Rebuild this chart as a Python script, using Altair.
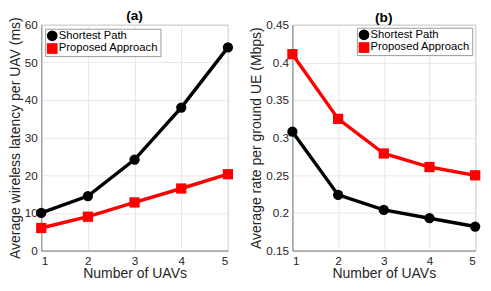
import altair as alt
import pandas as pd

uavs = [1, 2, 3, 4, 5]
latency_shortest = [10.0, 14.5, 24.2, 38.0, 54.0]
latency_proposed = [6.0, 9.0, 12.8, 16.5, 20.3]
rate_shortest = [0.308, 0.224, 0.204, 0.193, 0.182]
rate_proposed = [0.411, 0.325, 0.279, 0.261, 0.250]
series_names = ["Shortest Path", "Proposed Approach"]
series_colors = ["#000000", "#ff0000"]
series_shapes = ["circle", "square"]
latency_ticks = [0, 10, 20, 30, 40, 50, 60]
rate_ticks = [0.15, 0.2, 0.25, 0.3, 0.35, 0.4, 0.45]

FONT = "Liberation Sans"


def make_df(a, b):
    rows = []
    for name, vals in zip(series_names, [a, b]):
        for x, y in zip(uavs, vals):
            rows.append({"uavs": x, "value": y, "series": name})
    return pd.DataFrame(rows)


def panel(df, title, ytitle, ydomain, yticks, yfmt, orient, off, w, h):
    leg = alt.Legend(
        title=None, orient=orient, offset=off,
        fillColor="white", strokeColor="#9a9a9a", padding=1.5,
        labelFont=FONT, labelFontSize=11.5, labelColor="#000000",
        symbolSize=120, symbolStrokeWidth=0, rowPadding=0, labelOffset=1,
        symbolOffset=0,
    )
    cscale = alt.Scale(domain=series_names, range=series_colors)
    sscale = alt.Scale(domain=series_names, range=series_shapes)
    x = alt.X("uavs:Q", title="Number of UAVs",
              scale=alt.Scale(domain=[1, 5], nice=False),
              axis=alt.Axis(values=uavs, format="d", labelPadding=5,
                            titlePadding=1))
    y = alt.Y("value:Q", title=ytitle,
              scale=alt.Scale(domain=ydomain, nice=False, zero=False),
              axis=alt.Axis(values=yticks, format=yfmt, labelPadding=4,
                            titlePadding=2))
    base = alt.Chart(df)
    line = base.mark_line(strokeWidth=3.5).encode(
        x=x, y=y,
        color=alt.Color("series:N", scale=cscale, legend=leg),
    )
    pts = base.mark_point(filled=True, opacity=1, size=110).encode(
        x=x, y=y,
        color=alt.Color("series:N", scale=cscale, legend=leg),
        shape=alt.Shape("series:N", scale=sscale, legend=leg),
    )
    return alt.layer(line, pts).properties(
        width=w, height=h,
        title=alt.TitleParams(title, fontSize=14, fontWeight="bold", font=FONT,
                              offset=-6, anchor="middle", color="#000000",
                              frame="group"),
    )


pa = panel(make_df(latency_shortest, latency_proposed), "(a)",
           "Average wireless latency per UAV (ms)", [0, 60], latency_ticks, "d",
           "top-left", 4, 191, 231)
pb = panel(make_df(rate_shortest, rate_proposed), "(b)",
           "Average rate per ground UE (Mbps)", [0.15, 0.45], rate_ticks, "~g",
           "top-right", 3, 187, 231)

chart = alt.hconcat(pa, pb, spacing=14).resolve_legend(
    color="independent", shape="independent"
).resolve_scale(color="independent", shape="independent").properties(
    padding={"left": 0, "top": -3, "right": 0, "bottom": 0}
).configure_axis(
    labelFont=FONT, titleFont=FONT, labelFontSize=12, titleFontSize=14.3,
    titleFontWeight="normal", labelColor="#262626", titleColor="#262626",
    gridColor="#e6e6e6", domainColor="#8c8c8c", ticks=False,
).configure_view(stroke="#8c8c8c")

chart.save("out.html", embed_options={"renderer": "svg", "actions": False})
